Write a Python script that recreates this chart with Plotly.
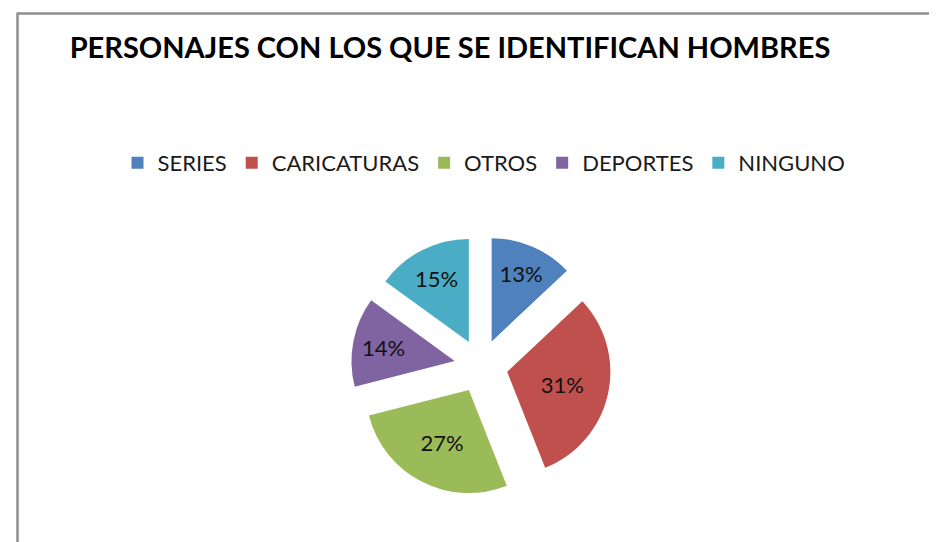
import plotly.graph_objects as go

W, H = 937, 542

categories = ["SERIES", "CARICATURAS", "OTROS", "DEPORTES", "NINGUNO"]
values = [13, 31, 27, 14, 15]
colors = ["#4F81BD", "#C0504D", "#9BBB59", "#8064A2", "#4BACC6"]
title_text = "PERSONAJES CON LOS QUE SE IDENTIFICAN HOMBRES"

def px_x(x):
    return x / W

def px_y(y):
    return 1 - y / H

fig = go.Figure(
    go.Pie(
        labels=categories,
        values=values,
        marker=dict(colors=colors, line=dict(width=0)),
        sort=False,
        direction="clockwise",
        rotation=0,
        pull=[0.26] * len(values),
        texttemplate="%{percent:.0%}",
        textposition="inside",
        insidetextorientation="horizontal",
        textfont=dict(family="Lato", size=22, color="#111111"),
        hoverinfo="label+percent",
        domain=dict(x=[px_x(343), px_x(603)], y=[px_y(488), px_y(228)]),
    )
)

fig.update_layout(
    width=W,
    height=H,
    margin=dict(l=0, r=0, t=0, b=0),
    paper_bgcolor="white",
    plot_bgcolor="white",
    title=dict(
        text="<b>" + title_text + "</b>",
        x=px_x(442), xanchor="center",
        y=px_y(40), yanchor="middle",
        font=dict(family="Lato", size=29, color="#000000"),
    ),
    showlegend=True,
    legend=dict(
        orientation="h",
        x=px_x(476), xanchor="center",
        y=px_y(155), yanchor="middle",
        font=dict(family="Lato", size=22, color="#1a1a1a"),
        bgcolor="rgba(0,0,0,0)",
    ),
    shapes=[
        dict(type="line", xref="paper", yref="paper",
             x0=px_x(9.5), x1=px_x(945), y0=px_y(5.5), y1=px_y(5.5),
             line=dict(color="#8f8f8f", width=2.5)),
        dict(type="line", xref="paper", yref="paper",
             x0=px_x(9.5), x1=px_x(9.5), y0=px_y(4.5), y1=px_y(550),
             line=dict(color="#8f8f8f", width=2.5)),
    ],
)

fig.write_html("out.html")
